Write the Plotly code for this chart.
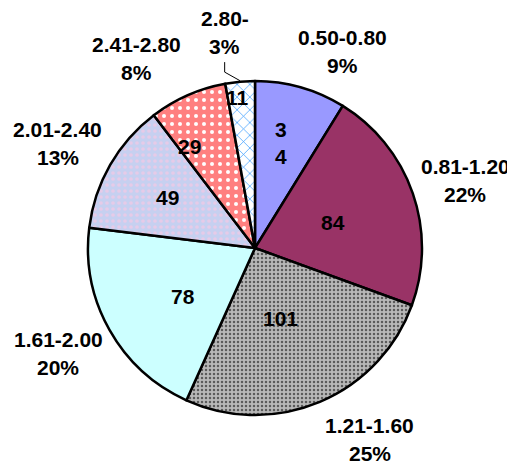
import math

import plotly.graph_objects as go

# Data
categories = ['0.50-0.80', '0.81-1.20', '1.21-1.60', '1.61-2.00', '2.01-2.40', '2.41-2.80', '2.80-']
counts = [34, 84, 101, 78, 49, 29, 11]
percent_labels = ['9%', '22%', '25%', '20%', '13%', '8%', '3%']
value_labels = [['3', '4'], ['84'], ['101'], ['78'], ['49'], ['29'], ['11']]

# Slice styling
colors = ['#9999ff', '#993366', '#b8b8b8', '#ccffff', '#c6d0f0', '#ff8080', '#ffffff']
pattern_shapes = ['', '', '.', '', '.', '.', 'x']
pattern_fg = ['#9999ff', '#993366', '#5a5a5a', '#ccffff', '#e6cbe8', '#ffffff', '#3399ff']
pattern_bg = ['#9999ff', '#993366', '#b8b8b8', '#ccffff', '#c6d0f0', '#ff8080', '#ffffff']
pattern_size = [8, 8, 4, 8, 6, 8, 9]
pattern_solidity = [0.3, 0.3, 0.3, 0.3, 0.3, 0.2, 0.15]

# Label placement (polar: angle clockwise from 12 o'clock, radius in px)
inside_angle = [13.9, 72.2, 160.1, 236.2, 300.0, 327.3, 353.4]
inside_r = [108, 82, 75, 87, 101, 121, 152]
outside_angle = [24.1, 72.2, 149.0, 241.8, 297.8, 328.0, 352.0]
outside_r = [215, 221, 223, 223, 223, 224, 218]

W, H = 515, 468
PAGE_OFFSET = 8            # default body margin of the html page
CX, CY, R = 255 - PAGE_OFFSET, 248 - PAGE_OFFSET, 167
LINE_GAP = 28

FONT = dict(family='Liberation Sans, Arial, sans-serif', size=21, color='black')

fig = go.Figure(go.Pie(
    labels=categories,
    values=counts,
    sort=False,
    direction='clockwise',
    rotation=0,
    textinfo='none',
    hoverinfo='label+value+percent',
    marker=dict(
        colors=colors,
        line=dict(color='black', width=2.5),
        pattern=dict(shape=pattern_shapes, fgcolor=pattern_fg, bgcolor=pattern_bg,
                     fillmode='replace',
                     size=pattern_size, solidity=pattern_solidity),
    ),
    domain=dict(x=[(CX - R) / W, (CX + R) / W],
                y=[(H - CY - R) / H, (H - CY + R) / H]),
    showlegend=False,
))


def to_paper(r, angle_deg):
    a = math.radians(angle_deg)
    return (CX + r * math.sin(a)) / W, (H - CY + r * math.cos(a)) / H


def text_block(lines, x, y, gap):
    out = []
    n = len(lines)
    for k, line in enumerate(lines):
        shift = ((n - 1) / 2 - k) * gap
        out.append(dict(x=x, y=y, xref='paper', yref='paper', showarrow=False,
                        xanchor='center', yanchor='middle', yshift=shift,
                        text=f'<b>{line}</b>', font=FONT))
    return out


annotations = []
for i, cat in enumerate(categories):
    x, y = to_paper(inside_r[i], inside_angle[i])
    annotations += text_block(value_labels[i], x, y, 27)

    x, y = to_paper(outside_r[i], outside_angle[i])
    annotations += text_block([cat, percent_labels[i]], x, y, LINE_GAP)

# leader line for the smallest slice
total = sum(counts)
mid_last = 360 - counts[-1] / total * 360 / 2
tx, ty = to_paper(R + 1, mid_last)
lx, ly = to_paper(outside_r[-1], outside_angle[-1])
sy = ly - 30 / H
fig.add_shape(type='path', xref='paper', yref='paper',
              path=f'M {lx} {sy} L {lx} {sy - 10 / H} L {tx} {ty}',
              line=dict(color='black', width=1))

fig.update_layout(
    width=W, height=H,
    margin=dict(l=0, r=0, t=0, b=0),
    paper_bgcolor='white',
    plot_bgcolor='white',
    font=FONT,
    annotations=annotations,
)

fig.write_html('out.html')
